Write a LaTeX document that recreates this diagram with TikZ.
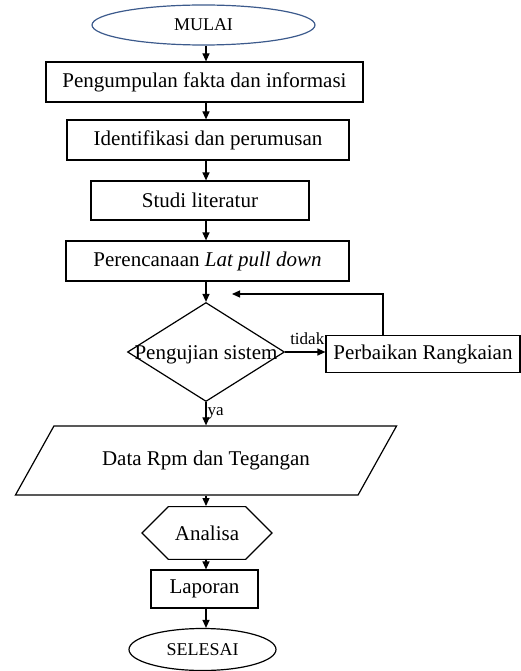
\documentclass[tikz,border=0pt]{standalone}
\usepackage{fontspec}
\setmainfont{Liberation Serif}
\usepackage{tikz}
\usetikzlibrary{arrows.meta, shapes.geometric, shapes.misc}

\definecolor{garisbiru}{RGB}{60,90,140}

\tikzset{
	kotak/.style={draw, rectangle, inner sep=0pt, font=\fontsize{21}{23}\selectfont},
	oval/.style={draw, ellipse, inner sep=0pt, font=\fontsize{18}{20}\selectfont},
	label kecil/.style={font=\fontsize{17}{19}\selectfont, inner sep=1pt}
}

\begin{document}
\begin{tikzpicture}[x=1pt, y=-1pt, >={Triangle[length=8pt,width=7pt]}, line width=1.2pt]
				% === batas gambar (ukuran 521 x 671) ===
				\useasboundingbox (0,0) rectangle (521,671);
				\coordinate (sumbu) at (206,0);
				
				% mulai & langkah awal
				\node[oval, draw=garisbiru, minimum width=223pt, minimum height=40pt] (mulai) at (203.5,25) {MULAI};
				\node[kotak, minimum width=317pt, minimum height=40pt] (s1) at (204.5,82) {Pengumpulan fakta dan informasi};
				\node[kotak, minimum width=282pt, minimum height=40pt] (s2) at (208,140) {Identifikasi dan perumusan};
				\node[kotak, minimum width=218pt, minimum height=39pt] (s3) at (200,200.5) {Studi literatur};
				\node[kotak, minimum width=283pt, minimum height=40pt] (s4) at (207.5,261) {Perencanaan \textit{Lat pull down}};
				
				% pengujian
				\node[draw, diamond, inner sep=0pt, minimum width=157pt, minimum height=99pt,
					label={[font=\fontsize{21}{23}\selectfont, yshift=-3pt]center:Pengujian sistem}] (uji) at (206,352) {};
				\node[kotak, minimum width=194pt, minimum height=37pt] (perbaikan) at (423,354) {Perbaikan Rangkaian};
				\coordinate (balik) at (232,294);
				
				% hasil
				\node[draw, trapezium, trapezium left angle=36, trapezium right angle=144, trapezium stretches=true,
					inner sep=0pt, minimum width=382pt, minimum height=69pt, font=\fontsize{21}{23}\selectfont] (data) at (206,460.5) {Data Rpm dan Tegangan};
				\node[draw, chamfered rectangle, chamfered rectangle xsep=30pt, chamfered rectangle ysep=19pt,
					inner sep=0pt, minimum width=130pt, minimum height=38pt, font=\fontsize{21}{23}\selectfont] (analisa) at (207,533) {Analisa};
				\node[kotak, minimum width=107pt, minimum height=38pt] (laporan) at (204.5,589) {Laporan};
				\node[oval, minimum width=147pt, minimum height=42pt] (selesai) at (202.5,649.5) {SELESAI};
				
				% panah utama
				\foreach \a/\b in {mulai/s1, s1/s2, s2/s3, s3/s4, s4/uji, data/analisa, analisa/laporan, laporan/selesai}
					\draw[->] (\a.south -| sumbu) -- (\b.north -| sumbu);
				\draw[->] (uji.south -| sumbu) -- (sumbu |- data.north) node[midway, right, label kecil] {ya};
				
				% cabang tidak
				\draw[->] (uji.east) -- (uji.east -| perbaikan.west) node[midway, above, label kecil, xshift=2pt, yshift=6pt] {tidak};
				\draw[->] ([xshift=-40pt]perbaikan.north) |- (balik);
			\end{tikzpicture}
\end{document}
